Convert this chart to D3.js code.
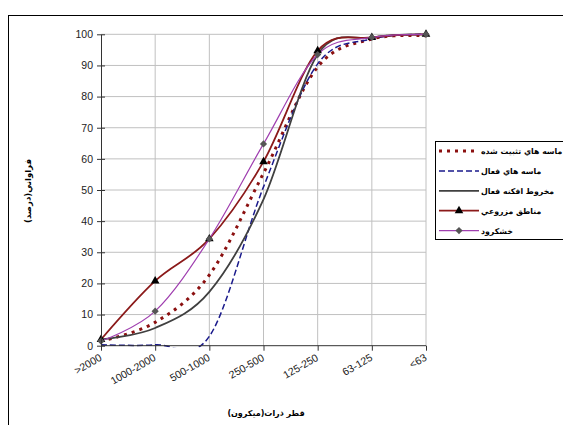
<!DOCTYPE html>
<html>
<head>
<meta charset="utf-8">
<script src="https://cdn.jsdelivr.net/npm/d3@7"></script>
<style>
  body { margin: 0; background: #fff; }
  text { font-family: "Liberation Sans", Arial, sans-serif; }
  .fa { font-family: "DejaVu Sans", sans-serif; font-weight: bold; }
</style>
</head>
<body>
<div id="chart"></div>
<script>
var categories = [">2000", "1000-2000", "500-1000", "250-500", "125-250", "63-125", "<63"];
var yTicks = [0, 10, 20, 30, 40, 50, 60, 70, 80, 90, 100];

var fixedSand = [1.5, 7.5, 22.7, 55.4, 89.5, 98.5, 99.5];
var activeSand = [0.3, 0.3, 3, 51, 90.5, 98.5, 100];
var activeFan = [2, 5.7, 17.3, 47, 93.5, 99, 100];
var farmland = [2, 20.8, 34.3, 59.1, 94.7, 99, 100];
var khoshkrud = [1.5, 11.1, 34.3, 64.8, 93.5, 99, 100];

var seriesNames = ["ماسه هاي تثبيت شده", "ماسه هاي فعال", "مخروط افكنه فعال", "مناطق مزروعي", "خشكرود"];

var series = [
  {name: seriesNames[0], values: fixedSand, color: "#8b1010", width: 3, dash: "3,5", marker: null},
  {name: seriesNames[1], values: activeSand, color: "#1a1a8c", width: 1.5, dash: "6,3", marker: null},
  {name: seriesNames[2], values: activeFan, color: "#404040", width: 1.8, dash: null, marker: null},
  {name: seriesNames[3], values: farmland, color: "#8b1a1a", width: 1.8, dash: null, marker: "triangle"},
  {name: seriesNames[4], values: khoshkrud, color: "#a040b0", width: 1.2, dash: null, marker: "diamond"}
];

var W = 563, H = 425;
var plot = {left: 101, right: 426, top: 34.3, bottom: 345.7};

var svg = d3.select('#chart')
  .append('svg')
    .attr('width', W)
    .attr('height', H);

// outer frame
svg.append('rect')
  .attr('x', 8.5).attr('y', 15.5)
  .attr('width', 600).attr('height', 500)
  .attr('fill', 'none').attr('stroke', '#000').attr('stroke-width', 1);

var x = d3.scalePoint()
  .domain(categories)
  .range([plot.left, plot.right]);

var y = d3.scaleLinear()
  .domain([0, 100])
  .range([plot.bottom, plot.top]);

// grid
svg.append('g').selectAll('line')
  .data(yTicks.slice(1))
  .enter().append('line')
    .attr('x1', plot.left).attr('x2', plot.right)
    .attr('y1', function(d) { return y(d); })
    .attr('y2', function(d) { return y(d); })
    .attr('stroke', '#c0c0c0').attr('stroke-width', 1);

svg.append('g').selectAll('line')
  .data(categories.slice(1))
  .enter().append('line')
    .attr('x1', function(d) { return x(d); })
    .attr('x2', function(d) { return x(d); })
    .attr('y1', plot.top).attr('y2', plot.bottom)
    .attr('stroke', '#c0c0c0').attr('stroke-width', 1);

svg.append('defs').append('clipPath').attr('id', 'clip')
  .append('rect')
    .attr('x', plot.left - 5).attr('y', plot.top - 5)
    .attr('width', plot.right - plot.left + 10)
    .attr('height', plot.bottom - plot.top + 6.5);

var line = d3.line()
  .x(function(d, i) { return x(categories[i]); })
  .y(function(d) { return y(d); })
  .curve(d3.curveCardinal.tension(0));

var lines = svg.append('g').attr('clip-path', 'url(#clip)');

series.forEach(function(s) {
  lines.append('path')
    .datum(s.values)
    .attr('d', line)
    .attr('fill', 'none')
    .attr('stroke', s.color)
    .attr('stroke-width', s.width)
    .attr('stroke-dasharray', s.dash);
});

var tri = d3.symbol().type(d3.symbolTriangle).size(32);
var dia = d3.symbol().type(d3.symbolSquare).size(26);

function markerTransform(s, px, py) {
  return 'translate(' + px + ',' + py + ')' + (s.marker == 'diamond' ? 'rotate(45)' : '');
}

series.forEach(function(s) {
  if (!s.marker) return;
  svg.append('g').selectAll('path')
    .data(s.values)
    .enter().append('path')
      .attr('d', s.marker == 'triangle' ? tri : dia)
      .attr('transform', function(d, i) { return markerTransform(s, x(categories[i]), y(d)); })
      .attr('fill', s.marker == 'triangle' ? '#000' : '#555');
});

// axes
var yAxis = svg.append('g')
  .attr('transform', 'translate(' + plot.left + ',0)')
  .call(d3.axisLeft(y).tickValues(yTicks).tickSize(4).tickSizeOuter(0).tickPadding(4));
yAxis.selectAll('.tick line').attr('x2', 4).attr('x1', -4);
yAxis.selectAll('text').attr('font-size', 10.5).attr('fill', '#222')
  .style('font-family', '"Liberation Sans", Arial, sans-serif');
yAxis.select('.domain').attr('stroke', '#333');
yAxis.selectAll('.tick line').attr('stroke', '#333');

var xAxis = svg.append('g')
  .attr('transform', 'translate(0,' + plot.bottom + ')')
  .call(d3.axisBottom(x).tickSize(5).tickSizeOuter(0));
xAxis.select('.domain').attr('stroke', '#333').attr('d', 'M' + plot.left + ',0H' + plot.right);
xAxis.selectAll('.tick line').attr('stroke', '#333');
xAxis.selectAll('text')
  .attr('font-size', 10.5).attr('fill', '#222')
  .style('font-family', '"Liberation Sans", Arial, sans-serif')
  .attr('text-anchor', 'end')
  .attr('dy', 0).attr('y', 0)
  .attr('transform', 'translate(1,14)rotate(-30)');

// axis titles
svg.append('text')
  .attr('class', 'fa')
  .attr('transform', 'translate(31,' + 191 + ')rotate(-90)')
  .attr('text-anchor', 'middle')
  .attr('font-size', 8.5)
  .text('فراواني(درصد)');

svg.append('text')
  .attr('class', 'fa')
  .attr('x', 266).attr('y', 416)
  .attr('text-anchor', 'middle')
  .attr('font-size', 8)
  .text('قطر ذرات(ميكرون)');

// legend
var legend = svg.append('g');
legend.append('rect')
  .attr('x', 435.5).attr('y', 141.5)
  .attr('width', 200).attr('height', 98)
  .attr('fill', '#fff').attr('stroke', '#000').attr('stroke-width', 1);

var item = legend.selectAll('.item')
  .data(series)
  .enter().append('g')
    .attr('transform', function(d, i) { return 'translate(0,' + (151 + i * 19.9) + ')'; });

item.append('line')
  .attr('x1', 439).attr('x2', 479)
  .attr('stroke', function(d) { return d.color; })
  .attr('stroke-width', function(d) { return d.width; })
  .attr('stroke-dasharray', function(d) { return d.dash; });

item.filter(function(d) { return d.marker; }).append('path')
  .attr('d', function(d) { return d.marker == 'triangle' ? tri() : dia(); })
  .attr('transform', function(d) { return markerTransform(d, 459, 0); })
  .attr('fill', function(d) { return d.marker == 'triangle' ? '#000' : '#555'; });

item.append('text')
  .attr('class', 'fa')
  .attr('x', 481).attr('y', 3)
  .attr('font-size', 7.8)
  .text(function(d) { return d.name; });
</script>
</body>
</html>
